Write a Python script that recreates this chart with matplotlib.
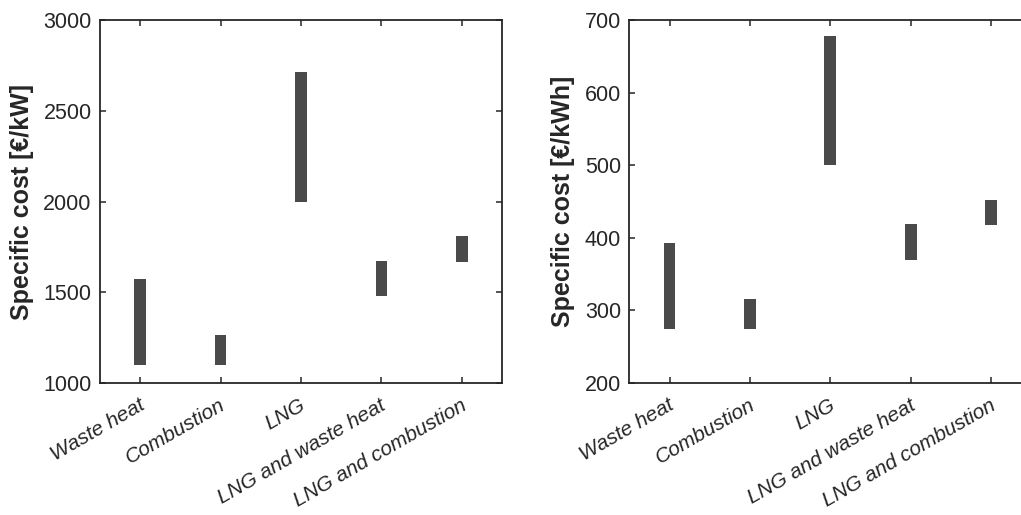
import numpy as np
import matplotlib
matplotlib.use('Agg')
import matplotlib.pyplot as plt
from matplotlib.transforms import ScaledTranslation

plt.rcParams['font.family'] = ['Liberation Sans', 'DejaVu Sans']

categories = ['Waste heat', 'Combustion', 'LNG', 'LNG and waste heat', 'LNG and combustion']

# power-specific cost range [EUR/kW]
power_low = [1100, 1100, 2000, 1480, 1665]
power_high = [1575, 1262, 2715, 1675, 1810]

# energy-specific cost range [EUR/kWh]
energy_low = [275, 275, 500, 370, 417]
energy_high = [393, 316, 678, 419, 452]

ink = '#262626'
bar_color = '#4a4a4a'

fig = plt.figure(figsize=(10.21, 5.15), dpi=100)
ax1 = fig.add_axes([0.0979, 0.2563, 0.3937, 0.7048])
ax2 = fig.add_axes([0.6164, 0.2563, 0.3937, 0.7048])


def draw_panel(ax, low, high, ylim, yticks, ylabel):
    x = np.arange(1, len(categories) + 1)
    heights = np.array(high) - np.array(low)
    ax.bar(x, heights, bottom=low, width=0.145, color=bar_color, linewidth=0)
    ax.set_xlim(0.5, 5.5)
    ax.set_ylim(*ylim)
    ax.set_yticks(yticks)
    ax.set_xticks(x)
    ax.set_xticklabels(categories, rotation=30, ha='right', style='italic',
                       fontsize=15, color=ink)
    ax.tick_params(direction='in', top=True, right=True, length=4.5,
                   width=1.1, color=ink, labelsize=15.5, labelcolor=ink, pad=6)
    ax.tick_params(axis='x', pad=9, labelsize=15)
    for sp in ax.spines.values():
        sp.set_linewidth(1.3)
        sp.set_color(ink)
    ax.set_ylabel(ylabel, fontsize=18, fontweight='bold', color=ink, labelpad=7)
    # shift rotated tick labels a bit so their ends sit at the ticks
    offset = ScaledTranslation(8 / 100, 0, fig.dpi_scale_trans)
    for lab in ax.get_xticklabels():
        lab.set_transform(lab.get_transform() + offset)


draw_panel(ax1, power_low, power_high, (1000, 3000),
           [1000, 1500, 2000, 2500, 3000], 'Specific cost [€/kW]')
draw_panel(ax2, energy_low, energy_high, (200, 700),
           [200, 300, 400, 500, 600, 700], 'Specific cost [€/kWh]')

fig.savefig('out.png', dpi=100)
